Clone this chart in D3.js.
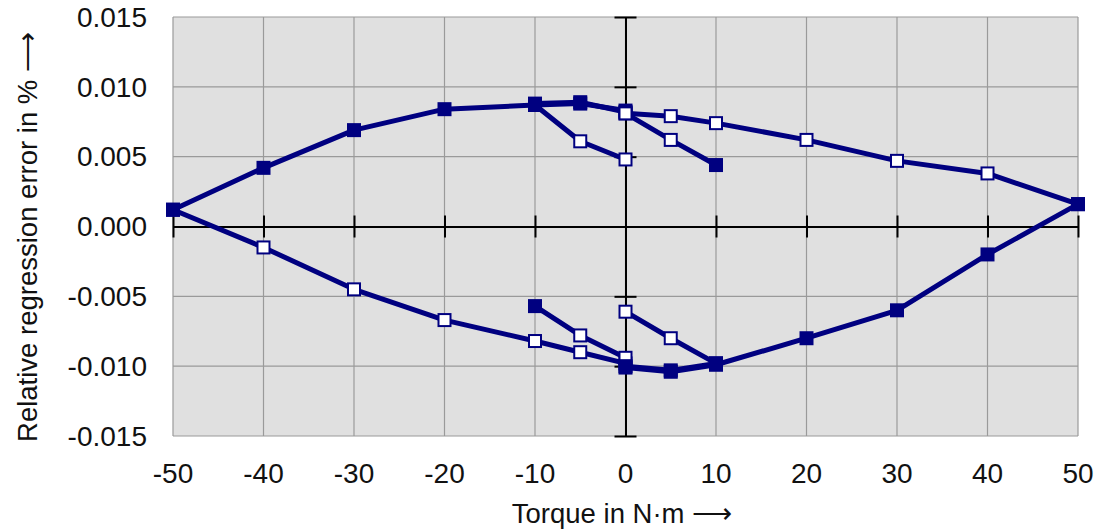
<!DOCTYPE html>
<html>
<head>
<meta charset="utf-8">
<script src="https://cdn.jsdelivr.net/npm/d3@7"></script>
<style>
  html, body { margin: 0; padding: 0; background: #ffffff; }
  svg { display: block; font-family: "Liberation Sans", Arial, sans-serif; }
</style>
</head>
<body>
<svg id="chart" width="1098" height="531"></svg>
<script>
// ---- Data ----
const xTicks = [-50, -40, -30, -20, -10, 0, 10, 20, 30, 40, 50];
const yTicks = [-0.015, -0.010, -0.005, 0.000, 0.005, 0.010, 0.015];

// Each path: torque values, error values, and which measurement series each point belongs to
// ("inc" = filled marker series, "dec" = open marker series)
const upperLeftTorque = [-50, -40, -30, -20, -10, -5, 0];
const upperLeftError  = [0.0012, 0.0042, 0.0069, 0.0084, 0.0087, 0.0088, 0.0083];
const upperLeftSeries = ["inc", "inc", "inc", "inc", "inc", "inc", "inc"];

const upperRightTorque = [0, 5, 10, 20, 30, 40, 50];
const upperRightError  = [0.0081, 0.0079, 0.0074, 0.0062, 0.0047, 0.0038, 0.0016];
const upperRightSeries = ["dec", "dec", "dec", "dec", "dec", "dec", "inc"];

const upperPartialATorque = [-10, -5, 0];
const upperPartialAError  = [0.0088, 0.0089, 0.0082];
const upperPartialASeries = ["inc", "inc", "dec"];

const upperPartialBTorque = [-10, -5, 0];
const upperPartialBError  = [0.0087, 0.0061, 0.0048];
const upperPartialBSeries = ["inc", "dec", "dec"];

const upperPartialCTorque = [0, 5, 10];
const upperPartialCError  = [0.0081, 0.0062, 0.0044];
const upperPartialCSeries = ["dec", "dec", "inc"];

const lowerRightTorque = [50, 40, 30, 20, 10, 5, 0];
const lowerRightError  = [0.0016, -0.0020, -0.0060, -0.0080, -0.0099, -0.0104, -0.0101];
const lowerRightSeries = ["inc", "inc", "inc", "inc", "inc", "inc", "inc"];

const lowerLeftTorque = [0, -5, -10, -20, -30, -40, -50];
const lowerLeftError  = [-0.0098, -0.0090, -0.0082, -0.0067, -0.0045, -0.0015, 0.0012];
const lowerLeftSeries = ["dec", "dec", "dec", "dec", "dec", "dec", "inc"];

const lowerPartialATorque = [10, 5, 0];
const lowerPartialAError  = [-0.0098, -0.0103, -0.0100];
const lowerPartialASeries = ["inc", "inc", "inc"];

const lowerPartialBTorque = [10, 5, 0];
const lowerPartialBError  = [-0.0098, -0.0080, -0.0061];
const lowerPartialBSeries = ["inc", "dec", "dec"];

const lowerPartialCTorque = [0, -5, -10];
const lowerPartialCError  = [-0.0094, -0.0078, -0.0057];
const lowerPartialCSeries = ["dec", "dec", "inc"];

const paths = [
  [upperLeftTorque, upperLeftError, upperLeftSeries],
  [upperPartialATorque, upperPartialAError, upperPartialASeries],
  [upperPartialBTorque, upperPartialBError, upperPartialBSeries],
  [upperRightTorque, upperRightError, upperRightSeries],
  [upperPartialCTorque, upperPartialCError, upperPartialCSeries],
  [lowerLeftTorque, lowerLeftError, lowerLeftSeries],
  [lowerPartialCTorque, lowerPartialCError, lowerPartialCSeries],
  [lowerPartialBTorque, lowerPartialBError, lowerPartialBSeries],
  [lowerRightTorque, lowerRightError, lowerRightSeries],
  [lowerPartialATorque, lowerPartialAError, lowerPartialASeries]
].map(([t, e, s]) => t.map((v, i) => ({ x: v, y: e[i], s: s[i] })));

// ---- Layout ----
const svg = d3.select("#chart");
const margin = { left: 173, right: 20, top: 17, bottom: 95 };
const W = 1098, H = 531;
const x = d3.scaleLinear().domain([-50, 50]).range([margin.left, W - margin.right]);
const y = d3.scaleLinear().domain([-0.015, 0.015]).range([H - margin.bottom, margin.top]);

const navy = "#000080";
const fontSize = 28;

// plot background
svg.append("rect")
  .attr("x", x(-50)).attr("y", y(0.015))
  .attr("width", x(50) - x(-50)).attr("height", y(-0.015) - y(0.015))
  .attr("fill", "#e0e0e0");

// grid
const grid = svg.append("g").attr("stroke", "#9a9a9a").attr("stroke-width", 1.2);
grid.selectAll("line.v").data(xTicks).join("line")
  .attr("x1", d => x(d)).attr("x2", d => x(d))
  .attr("y1", y(0.015)).attr("y2", y(-0.015));
grid.selectAll("line.h").data(yTicks).join("line")
  .attr("x1", x(-50)).attr("x2", x(50))
  .attr("y1", d => y(d)).attr("y2", d => y(d));

// axes through origin
const xAxis = d3.axisBottom(x).tickValues(xTicks).tickSizeInner(-11).tickSizeOuter(0).tickFormat("");
const gx = svg.append("g").attr("transform", `translate(0,${y(0)})`).call(xAxis);
gx.select(".domain").attr("stroke", "#000").attr("stroke-width", 2);
gx.selectAll(".tick line").attr("stroke", "#000").attr("stroke-width", 2).attr("y1", 11).attr("y2", -11);

const yAxis = d3.axisLeft(y).tickValues(yTicks).tickSizeInner(-11).tickSizeOuter(0).tickFormat("");
const gy = svg.append("g").attr("transform", `translate(${x(0)},0)`).call(yAxis);
gy.select(".domain").attr("stroke", "#000").attr("stroke-width", 2);
gy.selectAll(".tick line").attr("stroke", "#000").attr("stroke-width", 2).attr("x1", -11).attr("x2", 11);

// tick labels
svg.append("g").selectAll("text").data(yTicks).join("text")
  .attr("x", 147).attr("y", d => y(d)).attr("dy", "0.35em")
  .attr("text-anchor", "end").attr("font-size", fontSize).attr("fill", "#111")
  .text(d => d3.format(".3f")(d).replace("−", "-"));
svg.append("g").selectAll("text").data(xTicks).join("text")
  .attr("x", d => x(d)).attr("y", 483)
  .attr("text-anchor", "middle").attr("font-size", fontSize).attr("fill", "#111")
  .text(d => String(d));

// axis titles
svg.append("text").attr("x", 622).attr("y", 523).attr("text-anchor", "middle")
  .attr("font-size", 27.5).attr("fill", "#111").text("Torque in N·m ⟶");
svg.append("text").attr("transform", `translate(37,237) rotate(-90)`).attr("text-anchor", "middle")
  .attr("font-size", 27.5).attr("fill", "#111").text("Relative regression error in % ⟶");

// lines
const line = d3.line().x(d => x(d.x)).y(d => y(d.y));
svg.append("g").selectAll("path").data(paths).join("path")
  .attr("d", line).attr("fill", "none").attr("stroke", navy)
  .attr("stroke-width", 5).attr("stroke-linejoin", "round");

// markers
const mg = svg.append("g");
paths.forEach(p => {
  p.forEach(d => {
    if (d.s === "inc") {
      mg.append("rect").attr("x", x(d.x) - 7).attr("y", y(d.y) - 7)
        .attr("width", 14).attr("height", 14).attr("fill", navy);
    } else {
      mg.append("rect").attr("x", x(d.x) - 6).attr("y", y(d.y) - 6)
        .attr("width", 12).attr("height", 12).attr("fill", "#fff")
        .attr("stroke", navy).attr("stroke-width", 2);
    }
  });
});
</script>
</body>
</html>
